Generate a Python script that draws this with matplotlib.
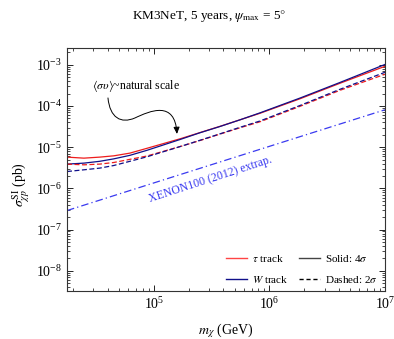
import matplotlib
matplotlib.use('Agg')
import matplotlib.pyplot as plt
from matplotlib.path import Path
from matplotlib.patches import FancyArrowPatch
from matplotlib.lines import Line2D
from matplotlib.ticker import LogLocator, NullFormatter

plt.rcParams['font.family'] = ['Liberation Serif', 'DejaVu Serif']
plt.rcParams['mathtext.fontset'] = 'stix'

# masses (GeV)
m = [1.77e4, 2.48e4, 3.4e4, 4.5e4, 6.2e4, 8.7e4, 1.71e5, 2.5e5, 3.73e5,
     5.56e5, 8.27e5, 1.84e6, 4.07e6, 1e7]
# 4 sigma (solid)
tau_4s = [5.75e-6, 5.43e-6, 5.75e-6, 6.18e-6, 7.19e-6, 9.4e-6, 1.62e-5, 2.26e-5,
          3.21e-5, 4.62e-5, 6.65e-5, 1.5e-4, 3.56e-4, 9.2e-4]
w_4s = [3.89e-6, 4.11e-6, 4.55e-6, 5.22e-6, 6.35e-6, 8.4e-6, 1.56e-5, 2.24e-5,
        3.18e-5, 4.62e-5, 6.81e-5, 1.56e-4, 3.72e-4, 1.02e-3]
# 2 sigma (dashed)
tau_2s = [3.89e-6, 3.74e-6, 3.89e-6, 4.26e-6, 5.08e-6, 6.11e-6, 1.05e-5, 1.45e-5,
          2.08e-5, 2.96e-5, 4.14e-5, 9.84e-5, 2.4e-4, 5.9e-4]
w_2s = [2.57e-6, 2.83e-6, 3.11e-6, 3.6e-6, 4.55e-6, 5.85e-6, 1.05e-5, 1.47e-5,
        2.11e-5, 3.04e-5, 4.32e-5, 1.03e-4, 2.54e-4, 6.58e-4]

# XENON100 (2012) extrapolation
m_xe = [1.77e4, 1e5, 1e6, 1e7]
xe = [2.9e-7, 1.36e-6, 1.05e-5, 8.1e-5]

red = '#ee1c1c'
navy = '#10108a'
xblue = '#3a3af0'

fig = plt.figure(figsize=(3.94, 3.39), dpi=100)
ax = fig.add_axes([0.170, 0.1416, 0.807, 0.717])

ax.plot(m, tau_4s, color=red, lw=0.9)
ax.plot(m, w_4s, color=navy, lw=0.9)
ax.plot(m, tau_2s, color=red, lw=0.9, dashes=(4, 2))
ax.plot(m, w_2s, color=navy, lw=0.9, dashes=(4, 2))
ax.plot(m_xe, xe, color=xblue, lw=0.9, dashes=(6, 2.5, 1, 2.5))

ax.set_xscale('log')
ax.set_yscale('log')
ax.set_xlim(1.77e4, 1e7)
ax.set_ylim(10**-8.49, 10**-2.59)

ax.yaxis.set_major_locator(LogLocator(base=10, numticks=20))
ax.yaxis.set_minor_locator(LogLocator(base=10, subs=range(2, 10), numticks=100))
ax.yaxis.set_minor_formatter(NullFormatter())
ax.xaxis.set_minor_formatter(NullFormatter())
ax.tick_params(which='both', direction='in', top=True, right=True, labelsize=10)
ax.tick_params(which='major', length=4, width=0.6)
ax.tick_params(which='minor', length=2, width=0.5)
for s in ax.spines.values():
    s.set_linewidth(0.8)
    s.set_color('#333333')

ax.set_xlabel(r'$m_\chi$ (GeV)', fontsize=10)
ax.set_ylabel(r'$\sigma^{\rm SI}_{\chi p}$ (pb)', fontsize=10)
ax.yaxis.set_label_coords(-0.11, 0.44)
ax.xaxis.set_label_coords(0.5, -0.125)

fig.suptitle(r'KM3NeT, 5 years, $\psi_{\rm max}$ = 5$\degree$', fontsize=9.5, x=0.53, y=0.975)

ax.text(0.08, 0.845, r'$\langle\sigma\upsilon\rangle$~natural scale', transform=ax.transAxes,
        fontsize=8.5, va='center', ha='left')

ax.text(0.45, 0.46, 'XENON100 (2012) extrap.', transform=ax.transAxes, color=xblue,
        fontsize=8.5, rotation=18, ha='center', va='center')

# wiggly arrow (axes fraction coords)
def fr(px, py):
    return ((px - 67) / 318.0, (291 - py) / 243.0)

verts = [fr(108, 98), fr(110, 118), fr(121, 124), fr(135, 118),
         fr(150, 111), fr(175, 100), fr(177, 134)]
codes = [Path.MOVETO, Path.CURVE4, Path.CURVE4, Path.CURVE4,
         Path.CURVE4, Path.CURVE4, Path.CURVE4]
arr = FancyArrowPatch(path=Path(verts, codes), arrowstyle='-|>,head_length=4,head_width=1.8',
                      color='black', lw=0.7, transform=ax.transAxes)
ax.add_patch(arr)

handles = [Line2D([], [], color='#ff4444', lw=1),
           Line2D([], [], color=navy, lw=1),
           Line2D([], [], color='#444444', lw=1),
           Line2D([], [], color='black', lw=1, dashes=(3, 2))]
labels = [r'$\tau$ track', r'$W$ track', r'Solid: 4$\sigma$', r'Dashed: 2$\sigma$']
ax.legend(handles, labels, ncol=2, loc='lower right', frameon=False, fontsize=8,
          handlelength=1.9, handletextpad=0.5, columnspacing=0.9, labelspacing=0.9,
          bbox_to_anchor=(1.01, -0.015))

fig.savefig('out.png', dpi=100)
